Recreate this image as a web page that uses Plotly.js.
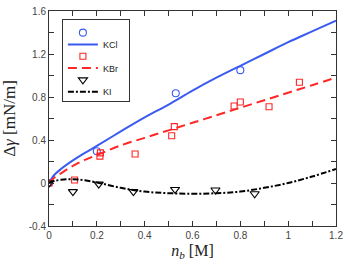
<!DOCTYPE html>
<html>
<head>
<meta charset="utf-8">
<script src="https://cdn.plot.ly/plotly-3.0.1.min.js"></script>
<style>
html,body{margin:0;padding:0;background:#fff;}
#chart{width:349px;height:268px;}
</style>
</head>
<body>
<div id="chart"></div>
<script>
// Measured data (symbols)
const kclX = [0, 0.2, 0.53, 0.8];
const kclY = [0, 0.295, 0.835, 1.05];
const kbrX = [0, 0.107, 0.213, 0.215, 0.36, 0.513, 0.524, 0.774, 0.80, 0.92, 1.047];
const kbrY = [0, 0.028, 0.25, 0.28, 0.27, 0.44, 0.524, 0.716, 0.753, 0.71, 0.937];
const kiX = [0, 0.10, 0.208, 0.353, 0.527, 0.696, 0.86];
const kiY = [0, -0.08, -0.01, -0.08, -0.06, -0.065, -0.10];

// Theory curves
const fitX = [0, 0.02, 0.05, 0.1, 0.15, 0.2, 0.3, 0.4, 0.5, 0.6, 0.7, 0.8, 0.9, 1.0, 1.1, 1.2];
const kclFitY = [0, 0.07, 0.13, 0.21, 0.28, 0.345, 0.48, 0.61, 0.73, 0.86, 0.98, 1.09, 1.20, 1.31, 1.41, 1.51];
const kbrFitY = [0, 0.045, 0.09, 0.16, 0.215, 0.26, 0.35, 0.42, 0.49, 0.56, 0.63, 0.70, 0.77, 0.84, 0.91, 0.98];
const kiFitY  = [0, 0.018, 0.03, 0.035, 0.025, 0.005, -0.045, -0.08, -0.095, -0.10, -0.095, -0.08, -0.045, 0.0, 0.06, 0.13];

// Tick labels
const xTickVals = [0, 0.1, 0.2, 0.3, 0.4, 0.5, 0.6, 0.7, 0.8, 0.9, 1.0, 1.1, 1.2];
const xTickText = ['0', '', '0.2', '', '0.4', '', '0.6', '', '0.8', '', '1', '', '1.2'];
const yTickVals = [-0.4, -0.2, 0, 0.2, 0.4, 0.6, 0.8, 1.0, 1.2, 1.4, 1.6];
const yTickText = ['-0.4', '', '0', '', '0.4', '', '0.8', '', '1.2', '', '1.6'];

const seriesNames = ['KCl', 'KBr', 'KI'];

const blue = '#3b5bf0';
const red = '#ff2626';
const black = '#000000';

const traces = [
  {x: kclX, y: kclY, mode: 'markers', name: ' ', showlegend: true,
   marker: {symbol: 'circle-open', size: 7, color: blue, line: {width: 1.1, color: blue}}},
  {x: fitX, y: kclFitY, mode: 'lines', name: seriesNames[0],
   line: {color: blue, width: 2, shape: 'spline'}},
  {x: kbrX, y: kbrY, mode: 'markers', name: ' ',
   marker: {symbol: 'square-open', size: 6, color: red, line: {width: 1.1, color: red}}},
  {x: fitX, y: kbrFitY, mode: 'lines', name: seriesNames[1],
   line: {color: red, width: 2, dash: '9px,5px', shape: 'spline'}},
  {x: kiX, y: kiY, mode: 'markers', name: ' ',
   marker: {symbol: 'triangle-down-open', size: 8, color: black, line: {width: 1.1, color: black}}},
  {x: fitX, y: kiFitY, mode: 'lines', name: seriesNames[2],
   line: {color: black, width: 2, dash: '6px,2px,2px,2px', shape: 'spline'}}
];

const axisCommon = {
  showgrid: false, zeroline: false, showline: true, linecolor: '#333', linewidth: 1,
  mirror: 'ticks', ticks: 'inside', ticklen: 5, tickwidth: 1, tickcolor: '#333',
  tickfont: {family: 'Liberation Sans, Arial, sans-serif', size: 10, color: '#444'},
  tickmode: 'array'
};

const layout = {
  width: 349, height: 268,
  margin: {l: 49, r: 13, t: 11, b: 42},
  paper_bgcolor: '#fff', plot_bgcolor: '#fff',
  showlegend: true,
  xaxis: Object.assign({}, axisCommon, {
    range: [0, 1.2], tickvals: xTickVals, ticktext: xTickText,
    title: {text: '<i>n</i><sub><i>b</i></sub> [M]', standoff: 4,
            font: {family: 'Liberation Serif, Times New Roman, serif', size: 16, color: '#222'}}
  }),
  yaxis: Object.assign({}, axisCommon, {
    range: [-0.4, 1.6], tickvals: yTickVals, ticktext: yTickText,
    title: {text: 'Δ<i>γ</i> [mN/m]', standoff: 8,
            font: {family: 'Liberation Serif, Times New Roman, serif', size: 17, color: '#222'}}
  }),
  legend: {
    x: 0.045, y: 0.962, xanchor: 'left', yanchor: 'top',
    bgcolor: '#fff', bordercolor: '#333', borderwidth: 1,
    font: {family: 'Liberation Sans, Arial, sans-serif', size: 9, color: '#222'},
    itemwidth: 30, tracegroupgap: 0
  }
};

Plotly.newPlot('chart', traces, layout, {displayModeBar: false, staticPlot: true}).then(function (gd) {
  // compact the legend row spacing to match the reference
  const items = gd.querySelectorAll('.legend .traces');
  if (items.length > 1) {
    const parse = t => {
      const m = /translate\(\s*([-\d.]+)[ ,]+([-\d.]+)\s*\)/.exec(t.getAttribute('transform') || '');
      return m ? [parseFloat(m[1]), parseFloat(m[2])] : null;
    };
    const p0 = parse(items[0]);
    const p1 = parse(items[1]);
    if (p0 && p1) {
      const oldStep = p1[1] - p0[1];
      const newStep = 11.8;
      items.forEach((t, i) => {
        const p = parse(t);
        if (p) t.setAttribute('transform', 'translate(' + p[0] + ',' + (p0[1] - 2 + i * newStep) + ')');
      });
      const bg = gd.querySelector('.legend .bg');
      if (bg) {
        const h = parseFloat(bg.getAttribute('height'));
        const w = parseFloat(bg.getAttribute('width'));
        bg.setAttribute('height', h - (oldStep - newStep) * (items.length - 1) - 7);
        bg.setAttribute('width', w + 5);
      }
    }
  }
});
</script>
</body>
</html>
